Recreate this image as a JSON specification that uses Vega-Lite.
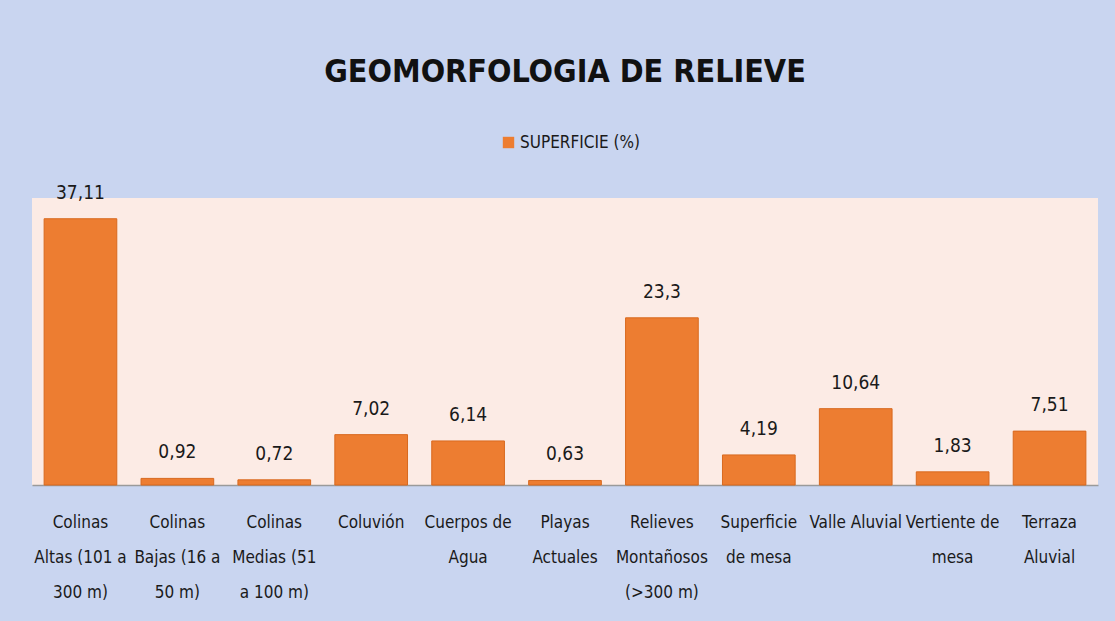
{
  "$schema": "https://vega.github.io/schema/vega-lite/v6.json",
  "autosize": {"type": "none"},
  "width": 1066,
  "height": 287,
  "padding": {"left": 32, "top": 198, "right": 17, "bottom": 136},
  "background": "#c9d5f0",
  "config": {
    "locale": {"number": {"decimal": ",", "thousands": ".", "grouping": [3], "currency": ["", " €"]}},
    "view": {"fill": "#fcebe5", "stroke": null},
    "font": "DejaVu Sans Condensed, Roboto, sans-serif"
  },
  "title": {
    "text": "GEOMORFOLOGIA DE RELIEVE",
    "font": "DejaVu Sans Condensed, Roboto, sans-serif",
    "fontSize": 32,
    "fontWeight": "bold",
    "color": "#111111",
    "anchor": "middle",
    "offset": 45
  },
  "data": {
    "values": [
      {"category": "Colinas Altas (101 a 300 m)", "value": 37.11, "series": "SUPERFICIE (%)"},
      {"category": "Colinas Bajas (16 a 50 m)", "value": 0.92, "series": "SUPERFICIE (%)"},
      {"category": "Colinas Medias (51 a 100 m)", "value": 0.72, "series": "SUPERFICIE (%)"},
      {"category": "Coluvión", "value": 7.02, "series": "SUPERFICIE (%)"},
      {"category": "Cuerpos de Agua", "value": 6.14, "series": "SUPERFICIE (%)"},
      {"category": "Playas Actuales", "value": 0.63, "series": "SUPERFICIE (%)"},
      {"category": "Relieves Montañosos (>300 m)", "value": 23.3, "series": "SUPERFICIE (%)"},
      {"category": "Superficie de mesa", "value": 4.19, "series": "SUPERFICIE (%)"},
      {"category": "Valle Aluvial", "value": 10.64, "series": "SUPERFICIE (%)"},
      {"category": "Vertiente de mesa", "value": 1.83, "series": "SUPERFICIE (%)"},
      {"category": "Terraza Aluvial", "value": 7.51, "series": "SUPERFICIE (%)"}
    ]
  },
  "encoding": {
    "x": {
      "field": "category",
      "type": "nominal",
      "sort": null,
      "scale": {"paddingInner": 0.25, "paddingOuter": 0.125},
      "axis": {
        "title": null,
        "labelAngle": 0,
        "ticks": false,
        "domainColor": "#9a9a9a",
        "domainWidth": 1.5,
        "labelFont": "DejaVu Sans Condensed, Roboto, sans-serif",
        "labelFontSize": 17,
        "labelColor": "#1a1a1a",
        "labelLineHeight": 35,
        "labelPadding": 29,
        "labelBaseline": "top",
        "labelLimit": 200,
        "labelOverlap": false,
        "labelExpr": "{'Colinas Altas (101 a 300 m)': ['Colinas', 'Altas (101 a', '300 m)'], 'Colinas Bajas (16 a 50 m)': ['Colinas', 'Bajas (16 a', '50 m)'], 'Colinas Medias (51 a 100 m)': ['Colinas', 'Medias (51', 'a 100 m)'], 'Cuerpos de Agua': ['Cuerpos de', 'Agua'], 'Playas Actuales': ['Playas', 'Actuales'], 'Relieves Montañosos (>300 m)': ['Relieves', 'Montañosos', '(>300 m)'], 'Superficie de mesa': ['Superficie', 'de mesa'], 'Vertiente de mesa': ['Vertiente de', 'mesa'], 'Terraza Aluvial': ['Terraza', 'Aluvial']}[datum.label] || datum.label"
      }
    },
    "y": {
      "field": "value",
      "type": "quantitative",
      "scale": {"domain": [0, 40], "nice": false},
      "axis": null
    }
  },
  "layer": [
    {
      "mark": {"type": "bar", "stroke": "#d8691f", "strokeWidth": 1},
      "encoding": {
        "color": {
          "field": "series",
          "type": "nominal",
          "scale": {"range": ["#ed7d31"]},
          "legend": {
            "title": null,
            "orient": "none",
            "legendX": 468,
            "legendY": -64,
            "symbolType": "square",
            "symbolSize": 130,
            "symbolStrokeWidth": 0,
            "labelFont": "DejaVu Sans Condensed, Roboto, sans-serif",
            "labelFontSize": 17,
            "labelColor": "#1a1a1a",
            "labelOffset": 3
          }
        }
      }
    },
    {
      "mark": {"type": "text", "baseline": "bottom", "dy": -16, "font": "DejaVu Sans Condensed, Roboto, sans-serif", "fontSize": 19, "color": "#1a1a1a"},
      "encoding": {
        "text": {"field": "value", "type": "quantitative", "format": ".4~r"}
      }
    }
  ]
}
